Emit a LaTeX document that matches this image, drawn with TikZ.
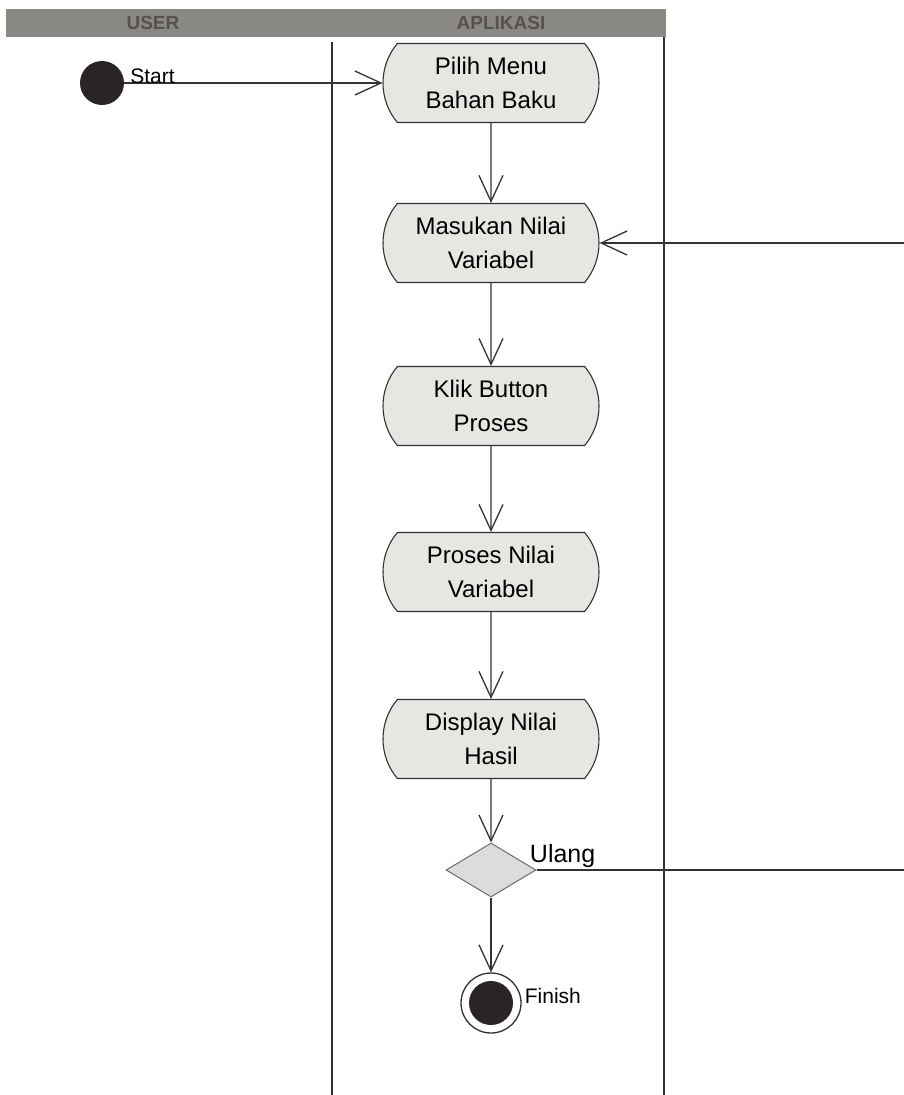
\documentclass[tikz,border=0pt]{standalone}
\usepackage{fontspec}
\setmainfont{Liberation Sans}
\usetikzlibrary{arrows.meta,positioning,shapes.misc,shapes.geometric}

\definecolor{inkgray}{HTML}{333333}
\definecolor{actfill}{HTML}{E6E6E3}
\definecolor{decfill}{HTML}{DCDCDA}
\definecolor{bandgray}{HTML}{8A8884}
\definecolor{bandtext}{HTML}{55524D}
\definecolor{dotfill}{HTML}{2B2424}

\begin{document}
\begin{tikzpicture}[x=1pt, y=-1pt,
    action/.style={rounded rectangle, rounded rectangle arc length=80, draw=inkgray, fill=actfill, line width=1.1pt, minimum width=216pt, minimum height=79pt, inner sep=0pt, align=center, font=\fontsize{24}{34}\selectfont},
    arrow/.style={-{Straight Barb[length=26pt, width=24pt, line width=1.3pt]}, line width=1.3pt, draw=inkgray},
    lane/.style={line width=1.3pt, draw=inkgray},
    header/.style={font=\fontsize{19}{22}\selectfont\bfseries, text=bandtext},
    small/.style={font=\fontsize{21}{24}\selectfont, inner sep=0pt}
]
    \clip (0,0) rectangle (904,1095);
    \fill[white] (0,0) rectangle (904,1095);

    \fill[bandgray] (6,9) rectangle (666,37);
    \node[header] (userhd) at (153,23) {USER};
    \node[header] (apphd) at (501,23) {APLIKASI};
    \draw[lane] (332,42) -- (332,1095);
    \draw[lane] (664,37) -- (664,1095);

    \node[circle, fill=dotfill, minimum size=44pt, inner sep=0pt] (start) at (102,83) {};
    \node[action] (pilih) at (491,83) {Pilih Menu\\Bahan Baku};
    \node[action] (masukan) at (491,243) {Masukan Nilai\\Variabel};
    \node[action] (klik) at (491,406) {Klik Button\\Proses};
    \node[action] (proses) at (491,572) {Proses Nilai\\Variabel};
    \node[action] (display) at (491,739) {Display Nilai\\Hasil};
    \node[diamond, draw=gray!85!black, fill=decfill, line width=1pt, minimum width=90pt, minimum height=54pt, inner sep=0pt] (ulang) at (491,870) {};
    \node[circle, draw=inkgray, fill=white, line width=1.3pt, minimum size=60pt, inner sep=0pt,
          path picture={\fill[dotfill] (path picture bounding box.center) circle (22pt);}] (finish) at (491,1003) {};

    \coordinate (loopdown) at (916,870);
    \coordinate (loopup) at (916,243);

    \draw[arrow] (start) -- (pilih);
    \draw[arrow] (pilih) -- (masukan);
    \draw[arrow] (masukan) -- (klik);
    \draw[arrow] (klik) -- (proses);
    \draw[arrow] (proses) -- (display);
    \draw[arrow] (display) -- (ulang);
    \draw[arrow] (ulang) -- (finish);
    \draw[arrow] (ulang.east) -- (loopdown) -- (loopup) -- (masukan.east);

    \node[small, right=6pt of start.east, anchor=base west] (startlbl) {Start};
    \node[small, font=\fontsize{25}{28}\selectfont, right=16pt of ulang.north east, anchor=base west, yshift=-6pt] (ulanglbl) {Ulang};
    \node[small, right=3pt of finish.east, anchor=base west] (finishlbl) {Finish};
\end{tikzpicture}
\end{document}
